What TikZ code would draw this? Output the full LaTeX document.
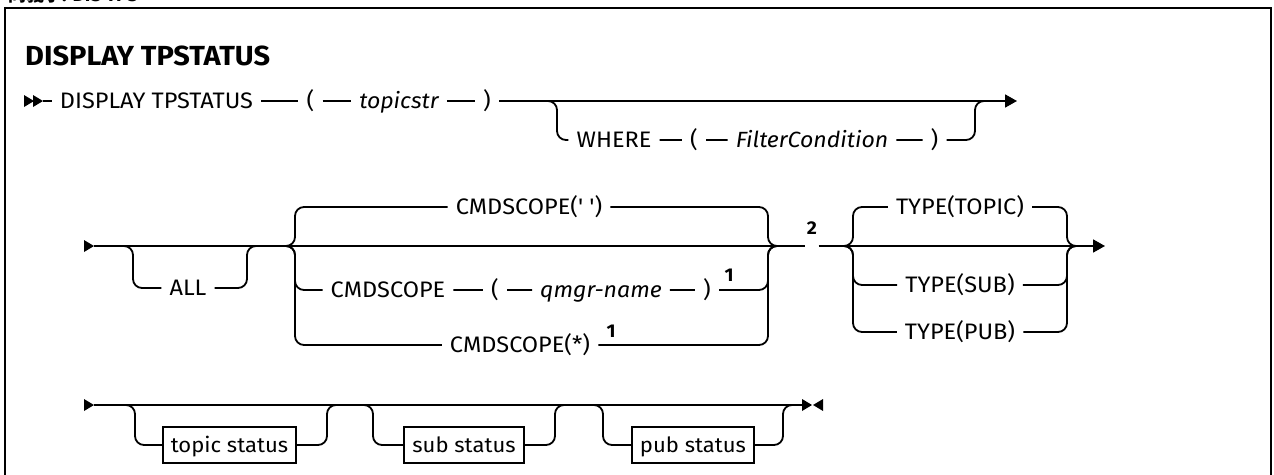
\documentclass[tikz,border=0pt]{standalone}
\usepackage{fontspec}
\newfontfamily\rrfont{Fira Sans}[FakeStretch=1.05]
\newfontfamily\cjkfont{Noto Sans CJK TC}
\usetikzlibrary{arrows.meta,positioning}

\newcommand{\rtri}[1]{\fill (#1) -- ++(-10,-6) -- ++(0,12) -- cycle;}
\newcommand{\ltri}[1]{\fill (#1) -- ++(10,-6) -- ++(0,12) -- cycle;}

\begin{document}
\begin{tikzpicture}[x=1pt,y=-1pt,
  every node/.style={font=\rrfont\fontsize{22.4}{24}\selectfont,inner xsep=8pt,
    inner ysep=2pt,text height=17.5pt,text depth=2pt},
  var/.style={font=\rrfont\itshape\fontsize{22}{24}\selectfont},
  bx/.style={draw,line width=1.8pt,inner xsep=8pt,minimum height=36pt,
    font=\rrfont\fontsize{21}{23}\selectfont},
  fn/.style={font=\rrfont\bfseries\fontsize{18.5}{20}\selectfont,inner sep=0pt,
    text height=,text depth=},
  rl/.style={line width=1.8pt,rounded corners=9pt},
  tip/.style={-{Triangle[length=12pt,width=13pt]}}]
\useasboundingbox (0,0) rectangle (1274,474);
\draw[line width=2pt] (5,480) -- (5,8) -- (1271,8) -- (1271,480);
\node[font=\bfseries\fontsize{18}{20}\selectfont,anchor=base west,
  inner sep=0pt,text height=,text depth=] (syn) at (8,1)
  {\cjkfont 同義字\rrfont: DIS TPS};
\node[font=\rrfont\bfseries\fontsize{27.6}{29}\selectfont,anchor=base west,
  inner sep=0pt,text height=,text depth=] (title) at (25,65) {DISPLAY TPSTATUS};

% first line
\coordinate (sA) at (43,101); \rtri{34,101} \rtri{sA}
\node (disp) at (156.5,101) {DISPLAY TPSTATUS};
\node (lpA) at (310.5,101) {(};
\node[var] (tstr) at (399,101) {topicstr};
\node (rpA) at (487,101) {)};
\coordinate (eA) at (1017,101);
\coordinate (bA0) at (547,101); \coordinate (bA) at (557,101);
\coordinate (cA) at (975,101); \coordinate (cA1) at (985,101);
\node (where) at (614,140) {WHERE};
\node (lpB) at (694,140) {(};
\node[var] (fcond) at (812,140) {FilterCondition};
\node (rpB) at (934.5,140) {)};
\draw[rl] (sA) -- (disp) -- (lpA) -- (tstr) -- (rpA);
\draw[rl,tip] (rpA) -- (eA);
\draw[rl] (bA0) -| (bA |- where) -- (where) -- (lpB) -- (fcond) -- (rpB)
  -| (cA) -- (cA1);

% second line
\coordinate (sB) at (94,246); \rtri{sB}
\coordinate (aL0) at (123,246); \coordinate (aL) at (133,246);
\coordinate (aR) at (247,246); \coordinate (aR1) at (257,246);
\node (all) at (188,288) {ALL};
\draw[rl] (aL0) -| (aL |- all) -- (all) -| (aR) -- (aR1);
\coordinate (cL0) at (285,246); \coordinate (cL) at (295,246);
\coordinate (cR) at (768,246); \coordinate (cR1) at (778,246);
\node (csA) at (529,207) {CMDSCOPE(' ')};
\node (csB) at (388,290) {CMDSCOPE};
\node (lpC) at (495,290) {(};
\node[var] (qmgr) at (601,290) {qmgr-name};
\node (rpC) at (707,290) {)};
\node (csC) at (520,345) {CMDSCOPE(*)};
\node[fn,anchor=base] (fnB) at (729,281) {1};
\node[fn,anchor=base] (fnC) at (611,337) {1};
\draw[rl] (cL0) -| (cL |- csA) -- (csA) -| (cR) -- (cR1);
\draw[rl] (cL0) -| (cL |- csB) -- (csB) -- (lpC) -- (qmgr) -- (rpC)
  -| (cR) -- (cR1);
\draw[rl] (cL0) -| (cL |- csC) -- (csC) -| (cR) -- (cR1);
\node[fn,minimum width=13pt] (n2) at (812,246) {};
\node[fn,above=11pt of n2] (n2t) {2};
\coordinate (tL0) at (843,246); \coordinate (tL) at (853,246);
\coordinate (tR) at (1067,246); \coordinate (tR1) at (1077,246);
\coordinate (eB) at (1105,246);
\node (tyA) at (960,207) {TYPE(TOPIC)};
\node (tyB) at (960,285) {TYPE(SUB)};
\node (tyC) at (960,332) {TYPE(PUB)};
\foreach \n in {tyA,tyB,tyC}
  \draw[rl] (tL0) -| (tL |- \n) -- (\n) -| (tR) -- (tR1);
\draw[rl] (sB) -- (n2);
\draw[rl,tip] (n2) -- (eB);

% third line
\coordinate (sC) at (94,405); \rtri{sC}
\coordinate (zC) at (802,405);
\draw[rl] (sC) -- (zC);
\rtri{812,405} \ltri{813,405}
\node[bx] (tps) at (229.5,445) {topic status};
\node[bx] (sbs) at (464,445) {sub status};
\node[bx] (pbs) at (693,445) {pub status};
\foreach \b/\l/\r in {tps/135/327,sbs/373/555,pbs/603/783} {
  \coordinate (\b-a) at ({\l-10},405); \coordinate (\b-b) at (\l,405);
  \coordinate (\b-c) at (\r,405); \coordinate (\b-d) at ({\r+10},405);
  \draw[rl] (\b-a) -| (\b-b |- \b) -- (\b) -| (\b-c) -- (\b-d);
}
\end{tikzpicture}
\end{document}
